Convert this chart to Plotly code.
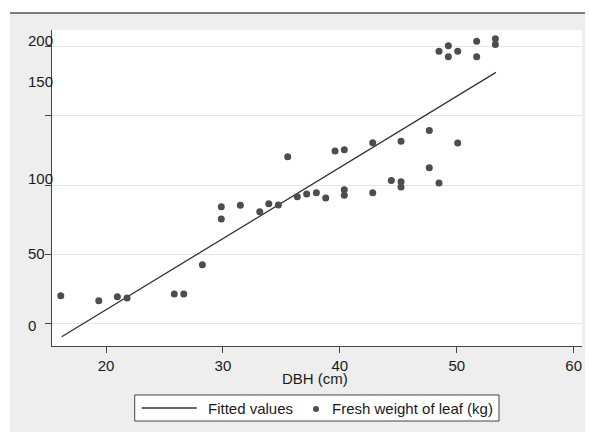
import plotly.graph_objects as go

# ---- data ----
dbh = [16.13, 19.38, 20.97, 21.80, 25.84, 26.65, 28.24, 29.86, 29.86, 31.49,
       33.15, 33.92, 34.74, 35.54, 36.36, 37.16, 37.99, 38.79, 39.59, 40.38,
       40.38, 40.38, 42.81, 42.81, 44.40, 45.23, 45.23, 45.23, 47.65, 47.65,
       48.48, 48.48, 49.28, 49.28, 50.08, 50.08, 51.70, 51.70, 53.30, 53.30]
leaf_weight = [20.2, 16.6, 19.5, 18.6, 21.4, 21.4, 42.6, 84.5, 75.6, 85.5,
               80.9, 86.6, 85.7, 120.6, 91.7, 93.6, 94.6, 90.8, 124.7, 125.6,
               96.8, 92.7, 130.7, 94.6, 103.5, 131.7, 102.5, 98.7, 139.6, 112.6,
               101.6, 196.7, 200.7, 192.8, 130.5, 196.7, 203.9, 192.8, 205.8, 201.7]
fit_x = [16.21, 53.35]
fit_y = [-9.4, 181.5]

x_ticks = [20, 30, 40, 50, 60]
y_ticks = [0, 50, 100, 150, 200]
y_label_text = ["200", "150", "100", "50", "0"]
x_title = "DBH (cm)"
legend_names = ["Fitted values", "Fresh weight of leaf (kg)"]

FONT = "Liberation Sans, Arial, sans-serif"
TXT = "#1a1a1a"
BG = "#eeeeee"
GRID = "#e6e6e6"
AX = "#444444"

fig = go.Figure()
fig.add_trace(go.Scatter(x=fit_x, y=fit_y, mode="lines", name=legend_names[0],
                         line=dict(color="#333333", width=1.3), showlegend=False))
fig.add_trace(go.Scatter(x=dbh, y=leaf_weight, mode="markers", name=legend_names[1],
                         marker=dict(color="#4d4d4d", size=7), showlegend=False))

L, R, T, B = 52, 8, 30, 86
W, H = 590, 432
PW, PH = W - L - R, H - T - B


def px(xp):
    return (xp - L) / PW


def py(yp):
    return (H - B - yp) / PH


shapes = [
    # white margins outside the gray frame
    dict(type="rect", xref="paper", yref="paper", x0=-0.3, x1=1.3, y0=py(13), y1=1.3,
         fillcolor="white", line=dict(width=0)),
    dict(type="rect", xref="paper", yref="paper", x0=-0.3, x1=px(10), y0=-0.5, y1=1.3,
         fillcolor="white", line=dict(width=0)),
    dict(type="rect", xref="paper", yref="paper", x0=px(585), x1=1.3, y0=-0.5, y1=1.3,
         fillcolor="white", line=dict(width=0)),
    dict(type="line", xref="paper", yref="paper", x0=px(10), x1=px(585), y0=py(13), y1=py(13),
         line=dict(color="#555555", width=1.5)),
    # legend box
    dict(type="rect", xref="paper", yref="paper", x0=px(134.7), x1=px(499), y0=py(395), y1=py(421),
         fillcolor="white", line=dict(color=AX, width=1)),
    dict(type="line", xref="paper", yref="paper", x0=px(141.7), x1=px(196.7), y0=py(408), y1=py(408),
         line=dict(color="#333333", width=1.3)),
    dict(type="circle", xref="paper", yref="paper", x0=px(313), x1=px(319), y0=py(406), y1=py(412),
         fillcolor="#4d4d4d", line=dict(width=0)),
]

annotations = []
y_label_pix = [40.5, 81, 178.7, 253, 325]
for t, yp in zip(y_label_text, y_label_pix):
    annotations.append(dict(text=t, xref="paper", yref="paper", x=px(26), y=py(yp),
                            xanchor="left", yanchor="middle", showarrow=False,
                            font=dict(family=FONT, size=15, color=TXT)))
annotations.append(dict(text=x_title, xref="paper", yref="paper", x=px(315), y=py(378),
                        xanchor="center", yanchor="middle", showarrow=False,
                        font=dict(family=FONT, size=15, color=TXT)))
annotations.append(dict(text=legend_names[0], xref="paper", yref="paper", x=px(206), y=py(408.5),
                        xanchor="left", yanchor="middle", showarrow=False,
                        font=dict(family=FONT, size=15, color=TXT)))
annotations.append(dict(text=legend_names[1], xref="paper", yref="paper", x=px(330), y=py(408.5),
                        xanchor="left", yanchor="middle", showarrow=False,
                        font=dict(family=FONT, size=15, color=TXT)))

fig.update_layout(
    width=W, height=H,
    margin=dict(l=L, r=R, t=T, b=B, pad=0),
    paper_bgcolor=BG, plot_bgcolor="white",
    font=dict(family=FONT, size=15, color=TXT),
    showlegend=False,
    shapes=shapes,
    annotations=annotations,
    xaxis=dict(range=[15.38, 60.71], tickvals=x_ticks, ticks="outside", ticklen=6,
               tickcolor=AX, showline=True, linecolor=AX, linewidth=1,
               showgrid=False, zeroline=False,
               tickfont=dict(family=FONT, size=15, color=TXT)),
    yaxis=dict(range=[-16.1, 212.1], tickvals=y_ticks, ticks="outside", ticklen=6,
               tickcolor=AX, showline=True, linecolor=AX, linewidth=1,
               showgrid=True, gridcolor=GRID, gridwidth=1, zeroline=False,
               showticklabels=False),
)

fig.write_html("out.html")
